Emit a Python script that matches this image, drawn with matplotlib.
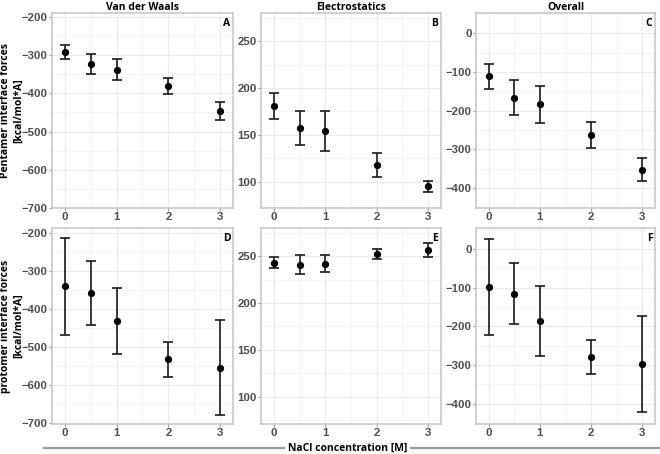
import numpy as np
import matplotlib
matplotlib.use("Agg")
import matplotlib.pyplot as plt
from matplotlib.lines import Line2D
from matplotlib.ticker import MultipleLocator
from matplotlib.font_manager import FontProperties

# NaCl concentration [M]
nacl = [0, 0.5, 1, 2, 3]

# pentamer interface (top row): mean and error half-width
vdw_pent = [-292, -323, -338, -381, -446]
vdw_pent_err = [19, 26, 27, 22, 24]
elec_pent = [181, 157, 154, 118, 95]
elec_pent_err = [14, 18, 21, 13, 5.5]
all_pent = [-111, -166, -184, -262, -352]
all_pent_err = [32, 45, 48, 34, 29]

# protomer interface (bottom row)
vdw_prot = [-340, -357, -431, -531, -554]
vdw_prot_err = [127, 84, 88, 46, 125]
elec_prot = [243, 241, 242, 252, 257]
elec_prot_err = [6, 10, 9, 5.5, 7.5]
all_prot = [-98, -116, -186, -279, -297]
all_prot_err = [124, 79, 90, 43, 125]

titles = ["Van der Waals", "Electrostatics", "Overall"]
letters = ["A", "B", "C", "D", "E", "F"]
row_labels = ["Pentamer interface forces\n[kcal/mol*A]",
              "protomer interface forces\n[kcal/mol*A]"]

data = [[(vdw_pent, vdw_pent_err), (elec_pent, elec_pent_err), (all_pent, all_pent_err)],
        [(vdw_prot, vdw_prot_err), (elec_prot, elec_prot_err), (all_prot, all_prot_err)]]
ylims = [[(-700, -190), (72, 280), (-451, 52)],
         [(-702, -186), (71, 280), (-452, 54)]]
ymajor = [100, 50, 100]

W, H = 660, 454
cols = [(52, 233), (261, 441), (476, 655)]
rows = [(13, 208), (228, 424)]

fig = plt.figure(figsize=(W / 100, H / 100), dpi=100)
tick_fp = FontProperties(family="Liberation Sans", weight="bold", size=8.2)
label_font = dict(family="Open Sans", weight="bold", size=7.5)

k = 0
for r in range(2):
    for c in range(3):
        x0, x1 = cols[c]
        y0, y1 = rows[r]
        ax = fig.add_axes([x0 / W, 1 - y1 / H, (x1 - x0) / W, (y1 - y0) / H])
        mean, err = data[r][c]
        ax.errorbar(nacl, mean, yerr=err, fmt="o", color="black", ms=4.2,
                    ecolor="#1a1a1a", elinewidth=1.2, capsize=3.7, capthick=1.2)
        ax.set_xlim(-0.25, 3.25)
        ax.set_ylim(*ylims[r][c])
        ax.xaxis.set_major_locator(MultipleLocator(1))
        ax.xaxis.set_minor_locator(MultipleLocator(0.5))
        ax.yaxis.set_major_locator(MultipleLocator(ymajor[c]))
        ax.yaxis.set_minor_locator(MultipleLocator(ymajor[c] / 2))
        ax.grid(which="major", color="#ebebeb", lw=0.8)
        ax.grid(which="minor", color="#f2f2f2", lw=0.5)
        ax.set_axisbelow(True)
        for s in ax.spines.values():
            s.set_color("#c8c8c8")
            s.set_linewidth(1.2)
        ax.tick_params(which="major", length=2, width=0.8, color="#999999", pad=1.2)
        ax.tick_params(which="minor", length=0)
        for lab in ax.get_xticklabels() + ax.get_yticklabels():
            lab.set_fontproperties(tick_fp)
            lab.set_color("#4d4d4d")
        ax.text(0.985, 0.975, letters[k], transform=ax.transAxes, ha="right", va="top",
                **label_font)
        if r == 0:
            ax.set_title(titles[c], pad=2, **label_font)
        k += 1
    # row label, placed in figure pixels
    fig.text(12 / W, 1 - (rows[r][0] + rows[r][1]) / 2 / H, row_labels[r],
             rotation=90, ha="center", va="center", linespacing=1.15,
             multialignment="center", **label_font)

# shared x label with horizontal rule
ly = 1 - 448 / H
fig.add_artist(Line2D([44 / W, 1.0], [ly, ly], color="#999999", lw=1.6))
fig.text(348 / W, ly, "NaCl concentration [M]", ha="center", va="center",
         bbox=dict(facecolor="white", edgecolor="none", pad=2), **label_font)

fig.savefig("out.png", dpi=100)
